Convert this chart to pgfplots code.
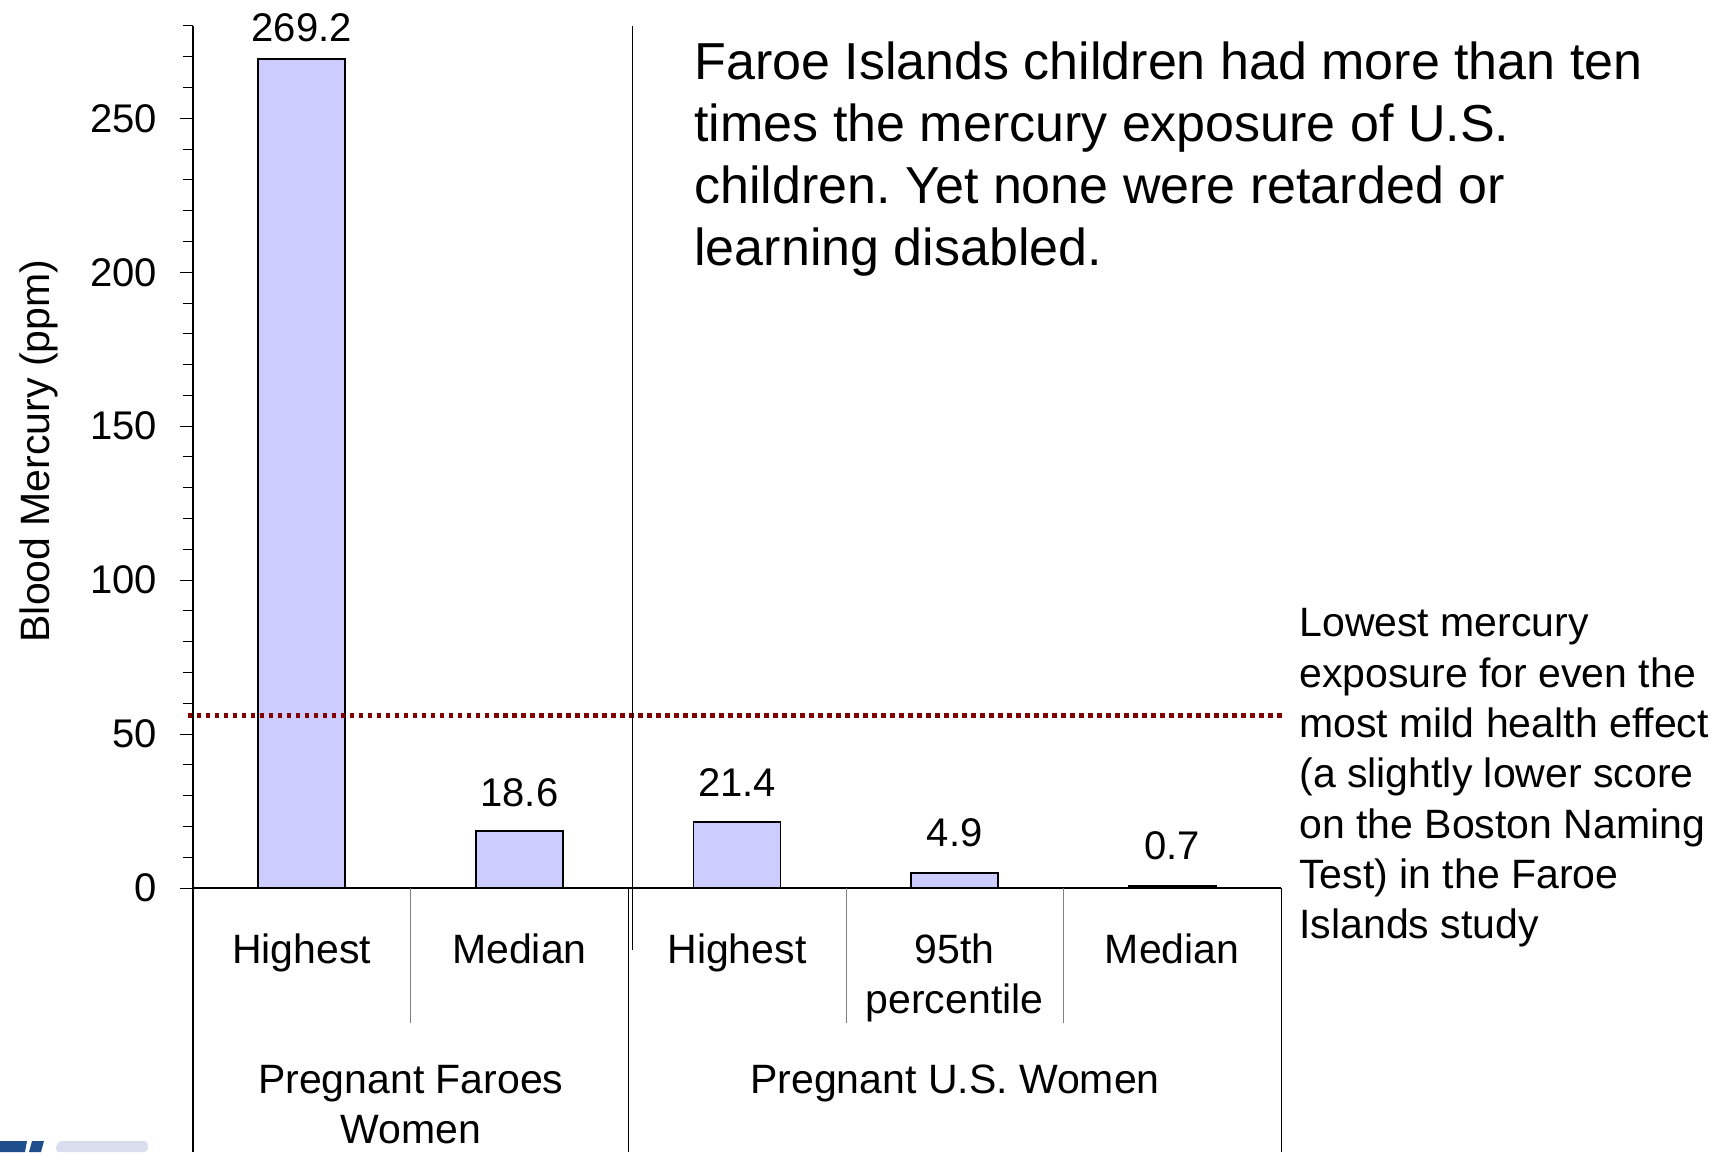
\documentclass[border=0pt]{standalone}
\usepackage{fontspec}
\setmainfont{Liberation Sans}
\usepackage{pgfplots}
\usepackage{pgfplotstable}
\pgfplotsset{compat=1.18}
\frenchspacing
\definecolor{barfill}{RGB}{204,204,255}
\definecolor{refred}{RGB}{128,0,0}
\definecolor{logoblue}{RGB}{31,78,140}
\definecolor{logolight}{RGB}{218,221,238}
\newcommand\fLab{\fontsize{20.5}{25}\selectfont}
\newcommand\fTick{\fontsize{20}{24}\selectfont}
\newcommand\fTop{\fontsize{26}{30.5}\selectfont}

\pgfplotstableread{
x y off
0 269.2 8.8
1 18.6 12.2
2 21.4 12.6
3 4.9 13
4 0.7 13
}\datatable

\begin{document}
\begin{tikzpicture}
\useasboundingbox (0,0) rectangle (864.5pt,576pt);
\begin{axis}[
  at={(96.5pt,132pt)}, anchor=south west,
  scale only axis, width=544pt, height=431pt,
  xmin=-0.5, xmax=4.5, ymin=0, ymax=280,
  axis line style={draw=none},
  clip=false,
  ytick={0,50,...,250},
  minor ytick={10,20,30,40,60,70,80,90,110,120,130,140,160,170,180,190,210,220,230,240,260,270,280},
  ytick pos=left, xtick pos=bottom, tick align=outside,
  major tick length=6.25pt, minor tick length=4.75pt,
  y tick style={black, line width=0.5pt},
  xtick={0,...,4},
  xticklabels={Highest,Median,Highest,95th\\percentile,Median},
  x tick style={draw=none},
  xticklabel style={font=\fLab, align=center, anchor=north, inner sep=0pt, yshift=-16.25pt},
  yticklabel style={font=\fTick, anchor=east, inner sep=0pt, xshift=-11.5pt},
  /pgf/number format/assume math mode=true,
]
\addplot[ybar, bar width=43.5pt, fill=barfill, draw=black, line width=0.9pt,
  visualization depends on={\thisrow{off} \as \myoff},
  nodes near coords,
  every node near coord/.append style={font=\fTick, text=black, anchor=base, yshift=\myoff pt},
] table[x=x, y=y] {\datatable};
\addplot[refred, line width=2.15pt, dash pattern=on 2.25pt off 2.25pt, forget plot]
  coordinates {(-0.523,56) (4.505,56)};
\end{axis}
\begin{scope}[x=0.5pt, y=-0.5pt, yshift=576pt]
  % axis frame and category box
  \draw[black, line width=0.6pt] (193,26) -- (193,1152);
  \draw[black, line width=0.6pt] (193,888) -- (1281,888);
  \draw[black, line width=0.5pt] (632.5,26) -- (632.5,950);
  \draw[black, line width=0.5pt] (628.6,888) -- (628.6,1152);
  \draw[black, line width=0.5pt] (1281,888) -- (1281,1152);
  \draw[gray, line width=0.5pt] (410.7,888) -- (410.7,1023);
  \draw[gray, line width=0.5pt] (846.2,888) -- (846.2,1023);
  \draw[gray, line width=0.5pt] (1063.8,888) -- (1063.8,1023);
  % group labels
  \node[font=\fLab, anchor=base, inner sep=0pt] at (410.8,1093) {Pregnant Faroes};
  \node[font=\fLab, anchor=base, inner sep=0pt] at (410.8,1143) {Women};
  \node[font=\fLab, anchor=base, inner sep=0pt] at (955,1093) {Pregnant U.S. Women};
  % y label
  \node[font=\fLab, anchor=base, inner sep=0pt, rotate=90] at (49,451) {Blood Mercury (ppm)};
  % top annotation
  \node[font=\fTop, anchor=base west, inner sep=0pt] at (694,80) {Faroe Islands children had more than ten};
  \node[font=\fTop, anchor=base west, inner sep=0pt] at (694,142) {times the mercury exposure of U.S.};
  \node[font=\fTop, anchor=base west, inner sep=0pt] at (694,204) {children. Yet none were retarded or};
  \node[font=\fTop, anchor=base west, inner sep=0pt] at (694,266) {learning disabled.};
  % right annotation
  \node[font=\fLab, anchor=base west, inner sep=0pt] at (1299,637) {Lowest mercury};
  \node[font=\fLab, anchor=base west, inner sep=0pt] at (1299,687.3) {exposure for even the};
  \node[font=\fLab, anchor=base west, inner sep=0pt] at (1299,737.6) {most mild health effect};
  \node[font=\fLab, anchor=base west, inner sep=0pt] at (1299,787.9) {(a slightly lower score};
  \node[font=\fLab, anchor=base west, inner sep=0pt] at (1299,838.2) {on the Boston Naming};
  \node[font=\fLab, anchor=base west, inner sep=0pt] at (1299,888.5) {Test) in the Faroe};
  \node[font=\fLab, anchor=base west, inner sep=0pt] at (1299,938.8) {Islands study};
  % partial logo
  \fill[logoblue] (0,1141) -- (27,1141) -- (25,1152) -- (0,1152) -- cycle;
  \fill[logoblue] (32,1141) -- (44,1141) -- (41,1152) -- (29,1152) -- cycle;
  \fill[logolight, rounded corners=2pt] (55,1152) -- (58,1141) -- (148,1141) -- (148,1152) -- cycle;
\end{scope}
\end{tikzpicture}
\end{document}
